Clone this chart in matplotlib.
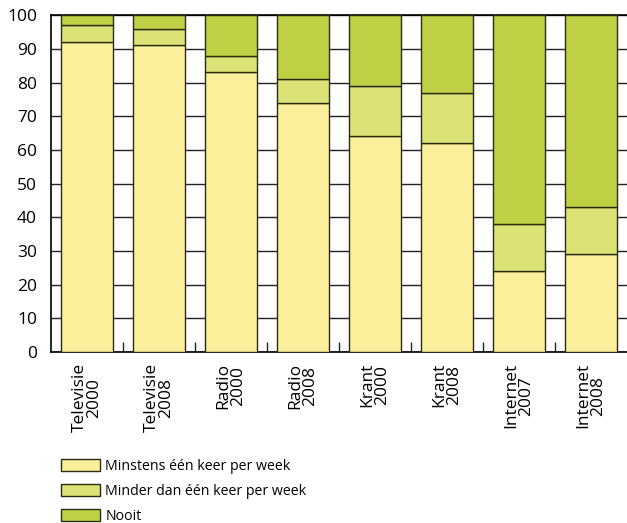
import matplotlib.pyplot as plt
import numpy as np

categorieen = ['Televisie\n2000', 'Televisie\n2008', 'Radio\n2000', 'Radio\n2008',
               'Krant\n2000', 'Krant\n2008', 'Internet\n2007', 'Internet\n2008']
wekelijks = [92, 91, 83, 74, 64, 62, 24, 29]
minder = [5, 5, 5, 7, 15, 15, 14, 14]
nooit = [3, 4, 12, 19, 21, 23, 62, 57]
reeksen = ['Minstens één keer per week', 'Minder dan één keer per week', 'Nooit']
kleuren = ['#faf09b', '#dde277', '#bfd045']

plt.rcParams['font.family'] = ['Open Sans', 'DejaVu Sans']

fig = plt.figure(figsize=(6.27, 5.23), dpi=100)
ax = fig.add_axes([0.0813, 0.327, 0.9187, 0.644])

x = np.arange(len(categorieen))
onder = np.zeros(len(x))
for waarden, naam, kleur in zip([wekelijks, minder, nooit], reeksen, kleuren):
    ax.bar(x, waarden, width=0.72, bottom=onder, color=kleur, edgecolor='#2b2b10',
           linewidth=1, label=naam, zorder=3)
    onder += np.array(waarden)

ax.set_xlim(-0.5, 7.5)
ax.set_ylim(0, 100)
ax.set_yticks(range(0, 101, 10))
ax.yaxis.grid(True, color='#222222', linewidth=1, zorder=0)
ax.set_axisbelow(True)
ax.tick_params(axis='y', length=0, labelsize=12.5, pad=10)

ax.set_xticks(x)
ax.set_xticklabels(categorieen, rotation=90, fontsize=12.5, ha='center', va='top',
                   multialignment='center', linespacing=0.9)
ax.tick_params(axis='x', length=0, pad=8)
ax.set_xticks(x[:-1] + 0.5, minor=True)
ax.tick_params(axis='x', which='minor', direction='in', length=7, width=1, color='#222222')

ax.spines['right'].set_visible(False)
for s in ['left', 'bottom', 'top']:
    ax.spines[s].set_color('black')
    ax.spines[s].set_linewidth(1.2)

fig.legend(loc='upper left', bbox_to_anchor=(0.098, 0.122), ncol=1, frameon=False,
           fontsize=10.2, handlelength=2.7, handleheight=0.95, handletextpad=0.4,
           labelspacing=0.7, borderaxespad=0, borderpad=0)

plt.savefig('out.png', dpi=100)
